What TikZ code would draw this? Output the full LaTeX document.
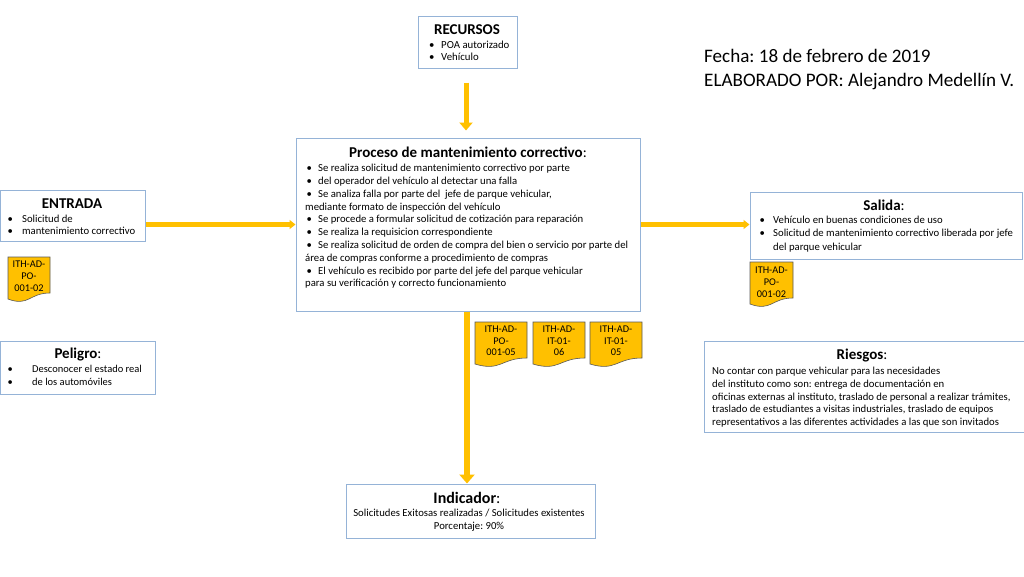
\documentclass[tikz,border=0pt]{standalone}
\usepackage{fontspec}
\setmainfont{Carlito}
\frenchspacing
\usetikzlibrary{arrows.meta}
\definecolor{bx}{HTML}{95B3D7}
\definecolor{org}{HTML}{FFC000}
\newcommand\bul[2]{\makebox[#1][l]{\hspace{1.5pt}\textbullet}#2}
\newcommand\docpath[4]{% x1, x2, top, height
  \fill[org] (#1,#3) -- (#2,#3) -- (#2,#3+0.80*#4)
    .. controls ({(#1+#2)/2},#3+0.80*#4) and ({(#1+#2)/2},#3+1.107*#4) .. (#1,#3+0.934*#4) -- cycle;
  \draw[draw=gray!70!black, line width=0.6pt] (#1,#3) -- (#2,#3) -- (#2,#3+0.80*#4)
    .. controls ({(#1+#2)/2},#3+0.80*#4) and ({(#1+#2)/2},#3+1.107*#4) .. (#1,#3+0.934*#4) -- cycle;}
\begin{document}
\begin{tikzpicture}[x=1pt,y=-1pt,
 boxx/.style={draw=bx, line width=1pt, fill=white, inner sep=0},
 body/.style={font=\fontsize{10.7}{12.8}\selectfont, align=left, inner sep=0, anchor=north west},
 flow/.style={draw=org, line width=5pt, -{Triangle[width=13pt,length=8pt]}},
 flowh/.style={draw=org, line width=4.5pt, -{Triangle[width=9pt,length=6pt]}},
 docl/.style={font=\fontsize{10.3}{12}\selectfont, align=center, inner sep=0},
]
\useasboundingbox (0,0) rectangle (1024,576);
\fill[white] (0,0) rectangle (1024,576);

% boxes
\node[boxx, minimum width=99, minimum height=52] (rec) at (467.5,42) {};
\node[boxx, minimum width=344, minimum height=173] (proc) at (468,224.5) {};
\node[boxx, minimum width=145, minimum height=51] (ent) at (72.5,215.5) {};
\node[boxx, minimum width=272, minimum height=67] (sal) at (886,225.5) {};
\node[boxx, minimum width=155, minimum height=53] (pel) at (77.5,367.5) {};
\node[boxx, minimum width=320, minimum height=91] (rie) at (864,386.5) {};
\node[boxx, minimum width=249, minimum height=54] (ind) at (470.5,511) {};

% RECURSOS
\node[inner sep=0, font=\fontsize{15}{17}\selectfont\bfseries] (recT) at (467,30) {RECURSOS};
\node[body, font=\fontsize{10.8}{12}\selectfont] (recB) at (427.5,40.5) {\bul{13.5pt}{POA autorizado}\\\bul{13.5pt}{Vehículo}};

% Fecha
\node[font=\fontsize{19.1}{24}\selectfont, align=left, inner sep=0, anchor=west] (fecha) at (704,70) {Fecha: 18 de febrero de 2019\\ELABORADO POR: Alejandro Medellín V.};

% Proceso
\node[inner sep=0] (procT) at (468,152) {\fontsize{15}{17}\selectfont\bfseries Proceso de mantenimiento correctivo\mdseries:};
\node[body] (procB) at (305,164) {\bul{13pt}{Se realiza solicitud de mantenimiento correctivo por parte}\\
\bul{13pt}{del operador del vehículo al detectar una falla}\\
\bul{13pt}{Se analiza falla por parte del\ \ jefe de parque vehicular,}\\
mediante formato de inspección del vehículo\\
\bul{13pt}{Se procede a formular solicitud de cotización para reparación}\\
\bul{13pt}{Se realiza la requisicion correspondiente}\\
\bul{13pt}{Se realiza solicitud de orden de compra del bien o servicio por parte del}\\
área de compras conforme a procedimiento de compras\\
\bul{13pt}{El vehículo es recibido por parte del jefe del parque vehicular}\\
para su verificación y correcto funcionamiento};

% ENTRADA
\node[inner sep=0, font=\fontsize{15}{17}\selectfont\bfseries] (entT) at (72,203.5) {ENTRADA};
\node[body, font=\fontsize{10.7}{12.8}\selectfont] (entB) at (6,214.5) {\bul{16pt}{Solicitud de}\\\bul{16pt}{mantenimiento correctivo}};

% Salida
\node[inner sep=0] (salT) at (884,205.5) {\fontsize{15}{17}\selectfont\bfseries Salida\mdseries:};
\node[body, font=\fontsize{10.7}{13.5}\selectfont] (salB) at (758,215.5) {\bul{15pt}{Vehículo en buenas condiciones de uso}\\\bul{15pt}{Solicitud de mantenimiento correctivo liberada por jefe}\\\hspace{15pt}del parque vehicular};

% Peligro
\node[inner sep=0] (pelT) at (78,354.5) {\fontsize{15}{17}\selectfont\bfseries Peligro\mdseries:};
\node[body, font=\fontsize{10.5}{12.8}\selectfont] (pelB) at (6,365.5) {\bul{26pt}{Desconocer el estado real}\\\bul{26pt}{de los automóviles}};

% Riesgos
\node[inner sep=0] (rieT) at (862,355.5) {\fontsize{15}{17}\selectfont\bfseries Riesgos\mdseries:};
\node[body, font=\fontsize{10.7}{12.7}\selectfont] (rieB) at (712,367) {No contar con parque vehicular para las necesidades\\
del instituto como son: entrega de documentación en\\
oficinas externas al instituto, traslado de personal a realizar trámites,\\
traslado de estudiantes a visitas industriales, traslado de equipos\\
representativos a las diferentes actividades a las que son invitados};

% Indicador
\node[inner sep=0] (indT) at (467,497.5) {\fontsize{16}{18}\selectfont\bfseries Indicador\mdseries:};
\node[inner sep=0, font=\fontsize{10.7}{13}\selectfont, align=center, anchor=north] (indB) at (469,508.5) {Solicitudes Exitosas realizadas / Solicitudes existentes\\Porcentaje: 90\%};

% documents
\docpath{8}{50}{257}{45}
\node[docl] (d1) at (29,276) {ITH-AD-\\PO-\\001-02};
\docpath{750}{793}{262}{45}
\node[docl] (d2) at (771.5,282) {ITH-AD-\\PO-\\001-02};
\docpath{475}{527}{322}{45}
\node[docl, font=\fontsize{10.3}{11.5}\selectfont] (d3) at (501,341) {ITH-AD-\\PO-\\001-05};
\docpath{533}{585}{322}{45}
\node[docl, font=\fontsize{10.3}{11.5}\selectfont] (d4) at (559,341) {ITH-AD-\\IT-01-\\06};
\docpath{590}{642}{322}{45}
\node[docl, font=\fontsize{10.3}{11.5}\selectfont] (d5) at (616,341) {ITH-AD-\\IT-01-\\05};

% arrows
\draw[flow, shorten <=14pt, shorten >=7pt] (rec.south -| 466,0) -- (proc.north -| 466,0);
\draw[flowh] (ent.east |- proc.west) -- (proc.west);
\draw[flowh] (proc.east) -- (sal.west |- proc.east);
\draw[flow, line width=6pt, -{Triangle[width=15pt,length=9pt]}] (proc.south -| 467,0) -- (ind.north -| 467,0);
\end{tikzpicture}
\end{document}
